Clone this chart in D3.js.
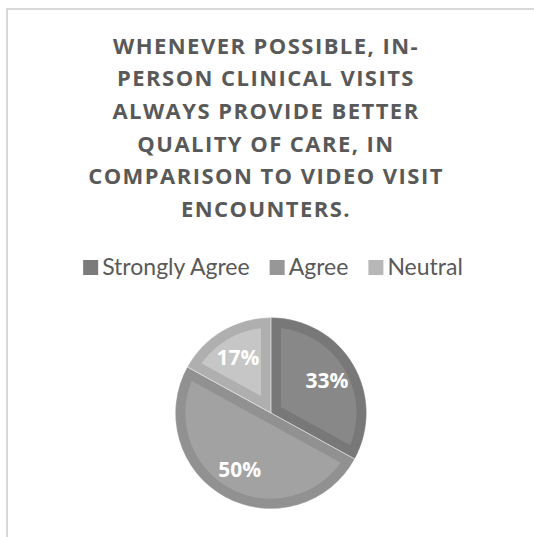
<!DOCTYPE html>
<html>
<head>
<meta charset="utf-8">
<script src="https://cdn.jsdelivr.net/npm/d3@7"></script>
<style>
  html, body { margin: 0; padding: 0; background: #fff; }
  svg { display: block; }
</style>
</head>
<body>
<svg id="chart" width="534" height="537"></svg>
<script>
// Survey responses (percent of respondents)
const categories = ["Strongly Agree", "Agree", "Neutral"];
const values = [33, 50, 17];
const titleLines = [
  "WHENEVER POSSIBLE, IN-",
  "PERSON CLINICAL VISITS",
  "ALWAYS PROVIDE BETTER",
  "QUALITY OF CARE, IN",
  "COMPARISON TO VIDEO VISIT",
  "ENCOUNTERS."
];

// Slice fills: darker rim and lighter interior for each category
const rimColors = ["#787878", "#919191", "#afafaf"];
const fillColors = ["#888888", "#a2a2a2", "#c6c6c6"];
const legendColors = ["#7b7b7b", "#979797", "#b7b7b7"];

const svg = d3.select("#chart");

// chart frame
svg.append("rect")
  .attr("x", 7).attr("y", 9)
  .attr("width", 540).attr("height", 540)
  .attr("fill", "#fff")
  .attr("stroke", "#d9d9d9")
  .attr("stroke-width", 2);

const cx = 266;

// title
const title = svg.append("text")
  .attr("text-anchor", "middle")
  .attr("font-family", "'Open Sans', sans-serif")
  .attr("font-weight", 700)
  .attr("font-size", 22)
  .attr("letter-spacing", 1.45)
  .attr("fill", "#595959");
title.selectAll("tspan")
  .data(titleLines)
  .join("tspan")
  .attr("x", cx)
  .attr("y", (d, i) => 53.5 + i * 32.7)
  .text(d => d);

// legend
const legend = svg.append("g");
const items = legend.selectAll("g")
  .data(categories)
  .join("g");
items.append("rect")
  .attr("width", 15).attr("height", 15)
  .attr("y", 260)
  .attr("fill", (d, i) => legendColors[i]);
items.append("text")
  .attr("y", 275)
  .attr("font-family", "Lato, sans-serif")
  .attr("font-size", 23)
  .attr("fill", "#595959")
  .text(d => d);
// position items side by side using measured label widths
let x = 0;
items.each(function () {
  const g = d3.select(this);
  const tw = g.select("text").node().getComputedTextLength();
  g.select("rect").attr("x", x);
  g.select("text").attr("x", x + 19);
  x += 19 + tw + 20;
});
const legendWidth = x - 20;
legend.attr("transform", `translate(${273 - legendWidth / 2},0)`);

// pie
const pcx = 271, pcy = 413, R = 95.5, rim = 10;
const pie = d3.pie().sort(null).value(d => d)(values);
const arc = d3.arc().innerRadius(0).outerRadius(R);
const labelArc = d3.arc().innerRadius(R * 0.68).outerRadius(R * 0.68);

const pg = svg.append("g").attr("transform", `translate(${pcx},${pcy})`);
const defs = svg.append("defs");
pie.forEach((p, i) => {
  defs.append("clipPath").attr("id", "slice-clip-" + i)
    .append("path").attr("d", arc(p));
});

const slices = pg.selectAll("g.slice")
  .data(pie)
  .join("g")
  .attr("class", "slice")
  .attr("clip-path", (d, i) => `url(#slice-clip-${i})`);
slices.append("path")
  .attr("d", arc)
  .attr("fill", (d, i) => fillColors[i])
  .attr("stroke", (d, i) => rimColors[i])
  .attr("stroke-width", rim * 2)
  .attr("stroke-linejoin", "miter");

// thin separators between slices
pg.selectAll("path.sep")
  .data(pie)
  .join("path")
  .attr("class", "sep")
  .attr("d", arc)
  .attr("fill", "none")
  .attr("stroke", "#ffffff")
  .attr("stroke-opacity", 0.35)
  .attr("stroke-width", 1);

// value labels
pg.selectAll("text.val")
  .data(pie)
  .join("text")
  .attr("class", "val")
  .attr("transform", d => `translate(${labelArc.centroid(d)})`)
  .attr("text-anchor", "middle")
  .attr("dy", "0.36em")
  .attr("font-family", "'Open Sans', sans-serif")
  .attr("font-weight", 700)
  .attr("font-size", 21)
  .attr("fill", "#ffffff")
  .text(d => d.data + "%");
</script>
</body>
</html>
